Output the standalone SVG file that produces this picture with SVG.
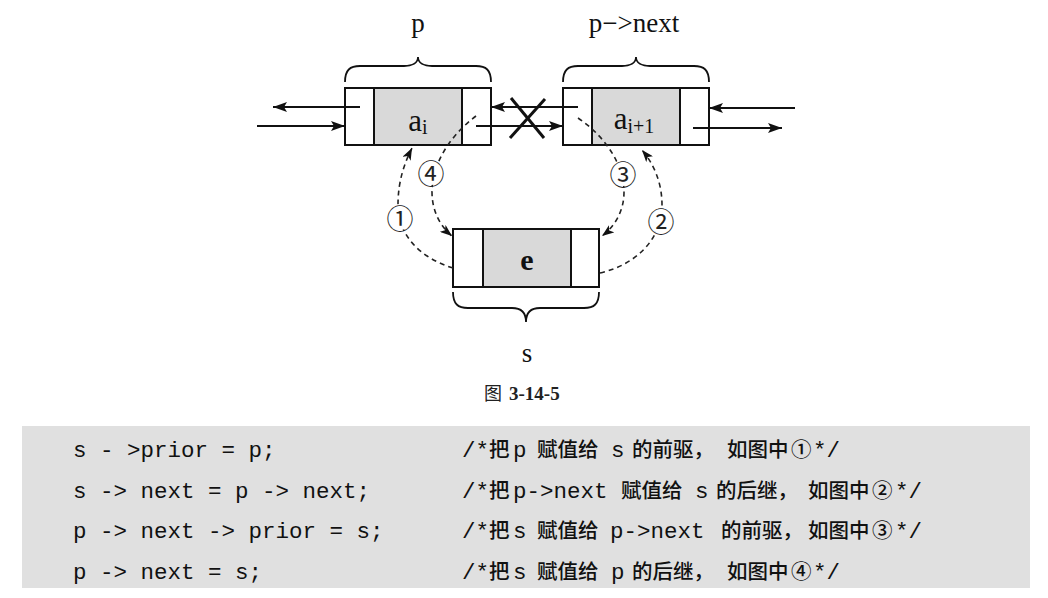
<svg xmlns="http://www.w3.org/2000/svg" width="1048" height="598" viewBox="0 0 1048 598">
<style>
.box{fill:#ffffff;stroke:#111;stroke-width:2}
.mid{fill:#d9d9d9;stroke:#111;stroke-width:2}
.brace{fill:none;stroke:#111;stroke-width:1.8}
.lbl{font-family:"Liberation Serif","Times New Roman",serif;fill:#111}
.ln{stroke:#111;stroke-width:2;fill:none}
.dash{stroke:#222;stroke-width:1.6;fill:none;stroke-dasharray:5 4}
.num{font-family:"Noto Sans CJK SC","DejaVu Sans",sans-serif;font-size:27px;fill:#222;text-anchor:middle;dominant-baseline:central}
.code{font-family:"Liberation Mono","Courier New",monospace;font-size:22.5px;fill:#111}
.cjk{font-family:"Noto Sans CJK SC",sans-serif;font-size:20.5px;font-weight:500}
</style>
<defs>
<marker id="arr" viewBox="0 0 14 10" refX="14" refY="5" markerWidth="14" markerHeight="10" markerUnits="userSpaceOnUse" orient="auto">
<path d="M0,0 L14,5 L0,10 L3,5 z" fill="#111"/>
</marker>
<marker id="darr" viewBox="0 0 12 9" refX="12" refY="4.5" markerWidth="12" markerHeight="9" markerUnits="userSpaceOnUse" orient="auto">
<path d="M0,0 L12,4.5 L0,9 L3,4.5 z" fill="#111"/>
</marker>
</defs>
<rect width="1048" height="598" fill="#ffffff"/>

<g id="node-p">
<rect class="box" x="345" y="88" width="146" height="57"/>
<rect class="mid" x="374" y="88" width="88" height="57"/>
<path class="brace" d="M345,82 C345,70 350,66 360,66 L404,66 C412,66 418,63 418,57 C418,63 424,66 432,66 L476,66 C486,66 491,70 491,82"/>
<text class="lbl" x="418" y="32" font-size="27" text-anchor="middle">p</text>
<text class="lbl" x="418" y="131" font-size="31" text-anchor="middle">a<tspan font-size="20" dy="3">i</tspan></text>
</g>

<g id="node-next">
<rect class="box" x="563" y="88" width="146" height="57"/>
<rect class="mid" x="592" y="88" width="88" height="57"/>
<path class="brace" d="M563,82 C563,70 568,66 578,66 L622,66 C630,66 636,63 636,57 C636,63 642,66 650,66 L694,66 C704,66 709,70 709,82"/>
<text class="lbl" x="634" y="32" font-size="27" text-anchor="middle">p−&gt;next</text>
<text class="lbl" x="634" y="129" font-size="31" text-anchor="middle">a<tspan font-size="20" dy="4">i+1</tspan></text>
</g>

<g id="node-s">
<rect class="box" x="453" y="229" width="146" height="58"/>
<rect class="mid" x="483" y="229" width="88" height="58"/>
<path class="brace" d="M453,292 C453,304 458,308 468,308 L512,308 C520,308 526,311 526,322 C526,311 532,308 540,308 L584,308 C594,308 599,304 599,292"/>
<text class="lbl" x="527" y="270" font-size="30" font-weight="bold" text-anchor="middle">e</text>
<text class="lbl" x="527" y="362" font-size="27" text-anchor="middle">s</text>
</g>

<g id="connectors">
<line class="ln" x1="360" y1="107" x2="273" y2="107" marker-end="url(#arr)"/>
<line class="ln" x1="257" y1="126" x2="345" y2="126" marker-end="url(#arr)"/>
<line class="ln" x1="578" y1="107" x2="491" y2="107" marker-end="url(#arr)"/>
<line class="ln" x1="476" y1="126" x2="563" y2="126" marker-end="url(#arr)"/>
<line class="ln" x1="795" y1="108" x2="709" y2="108" marker-end="url(#arr)"/>
<line class="ln" x1="693" y1="128" x2="782" y2="128" marker-end="url(#arr)"/>
<line x1="511" y1="98" x2="544" y2="138" stroke="#111" stroke-width="3"/>
<line x1="545" y1="99" x2="510" y2="138" stroke="#111" stroke-width="3"/>
<path class="dash" d="M453,268 C420,258 398,235 398,205 C398,180 405,162 412,148" marker-end="url(#darr)"/>
<path class="dash" d="M476,116 C452,134 432,162 432,192 C432,212 441,227 452,236" marker-end="url(#darr)"/>
<path class="dash" d="M578,118 C602,134 624,162 624,192 C624,212 614,227 602,236" marker-end="url(#darr)"/>
<path class="dash" d="M600,273 C635,265 662,240 662,205 C662,180 652,162 642,150" marker-end="url(#darr)"/>
</g>

<g id="labels">
<circle cx="400" cy="217" r="13" fill="#ffffff"/>
<text class="num" x="400" y="217">①</text>
<circle cx="661" cy="220" r="13" fill="#ffffff"/>
<text class="num" x="661" y="220">②</text>
<circle cx="623" cy="173" r="13" fill="#ffffff"/>
<text class="num" x="623" y="173">③</text>
<circle cx="431" cy="172" r="13" fill="#ffffff"/>
<text class="num" x="431" y="172">④</text>
</g>

<g id="caption">
<text x="484" y="400" font-family="Noto Sans CJK SC,sans-serif" font-size="18" fill="#222">图</text>
<text x="509" y="400" font-family="Liberation Serif,serif" font-size="19" font-weight="bold" fill="#222">3-14-5</text>
</g>

<g id="code">
<rect x="22" y="426" width="1008" height="162" fill="#e0e0e0"/>
<text class="code" x="73" y="457">s - &gt;prior = p;</text>
<text class="code" x="73" y="498">s -&gt; next = p -&gt; next;</text>
<text class="code" x="73" y="538">p -&gt; next -&gt; prior = s;</text>
<text class="code" x="73" y="579">p -&gt; next = s;</text>

<text class="code" y="457"><tspan x="462">/*</tspan><tspan class="cjk" x="489">把</tspan><tspan x="513">p</tspan><tspan class="cjk" x="537">赋值给</tspan><tspan x="611">s</tspan><tspan class="cjk" x="632">的前驱，</tspan><tspan class="cjk" x="727">如图中</tspan><tspan class="cjk" x="791">①</tspan><tspan x="813">*/</tspan></text>
<text class="code" y="498"><tspan x="462">/*</tspan><tspan class="cjk" x="489">把</tspan><tspan x="513">p-&gt;next</tspan><tspan class="cjk" x="621">赋值给</tspan><tspan x="695">s</tspan><tspan class="cjk" x="716">的后继，</tspan><tspan class="cjk" x="808">如图中</tspan><tspan class="cjk" x="872">②</tspan><tspan x="895">*/</tspan></text>
<text class="code" y="538"><tspan x="462">/*</tspan><tspan class="cjk" x="489">把</tspan><tspan x="513">s</tspan><tspan class="cjk" x="537">赋值给</tspan><tspan x="610">p-&gt;next</tspan><tspan class="cjk" x="721">的前驱，</tspan><tspan class="cjk" x="808">如图中</tspan><tspan class="cjk" x="872">③</tspan><tspan x="895">*/</tspan></text>
<text class="code" y="579"><tspan x="462">/*</tspan><tspan class="cjk" x="489">把</tspan><tspan x="513">s</tspan><tspan class="cjk" x="537">赋值给</tspan><tspan x="611">p</tspan><tspan class="cjk" x="632">的后继，</tspan><tspan class="cjk" x="727">如图中</tspan><tspan class="cjk" x="791">④</tspan><tspan x="813">*/</tspan></text>
</g>
</svg>
